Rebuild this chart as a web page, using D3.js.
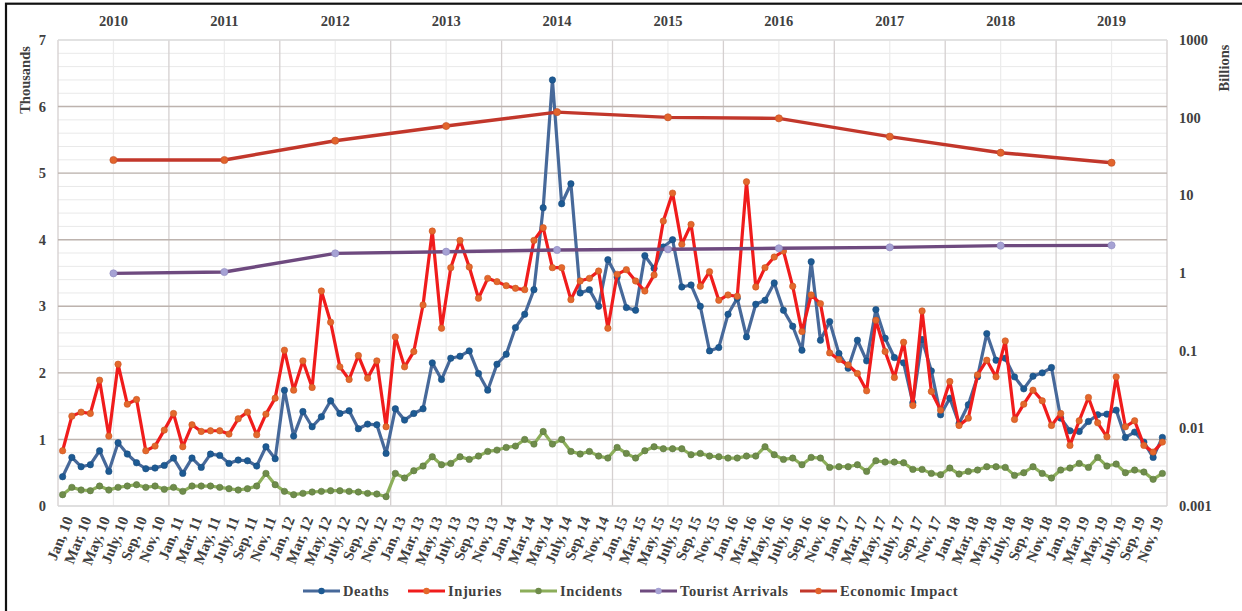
<!DOCTYPE html>
<html><head><meta charset="utf-8">
<script src="https://cdn.jsdelivr.net/npm/d3@7"></script>
<style>
html,body{margin:0;padding:0;background:#fff;}
svg{display:block;}
text{font-family:"Liberation Serif","Times New Roman",serif;font-weight:bold;fill:#404040;}
</style></head>
<body>
<svg id="chart" width="1242" height="611"></svg>
<script>
// ---------- DATA ----------
const monthNames = ["Jan","Feb","Mar","Apr","May","June","July","Aug","Sep","Oct","Nov","Dec"];
const years = ["2010","2011","2012","2013","2014","2015","2016","2017","2018","2019"];
const leftTicks = [0,1,2,3,4,5,6,7];
const rightTicks = [0.001,0.01,0.1,1,10,100,1000];
const rightTickLabels = ["0.001","0.01","0.1","1","10","100","1000"];

const deaths = [0.44,0.73,0.59,0.62,0.83,0.52,0.95,0.78,0.65,0.56,0.57,0.61,
0.72,0.49,0.72,0.58,0.78,0.76,0.64,0.69,0.68,0.60,0.89,0.71,
1.74,1.05,1.42,1.19,1.34,1.58,1.39,1.43,1.16,1.23,1.22,0.79,
1.46,1.29,1.39,1.46,2.15,1.90,2.22,2.25,2.33,1.99,1.74,2.13,
2.28,2.68,2.88,3.25,4.48,6.40,4.54,4.84,3.20,3.25,3.00,3.70,
3.44,2.98,2.94,3.76,3.57,3.89,4.00,3.29,3.32,3.00,2.33,2.38,
2.88,3.12,2.54,3.03,3.09,3.35,2.94,2.70,2.34,3.67,2.49,2.77,
2.29,2.07,2.49,2.18,2.95,2.52,2.23,2.15,1.55,2.50,2.03,1.37,
1.62,1.24,1.52,1.94,2.59,2.19,2.22,1.94,1.76,1.95,2.00,2.08,
1.32,1.13,1.12,1.27,1.37,1.38,1.44,1.03,1.11,0.96,0.73,1.03];

const injuries = [0.83,1.35,1.41,1.39,1.89,1.05,2.13,1.53,1.60,0.83,0.90,1.14,
1.39,0.89,1.22,1.12,1.13,1.13,1.08,1.31,1.41,1.07,1.38,1.62,
2.34,1.74,2.18,1.78,3.23,2.76,2.09,1.90,2.26,1.92,2.18,1.19,
2.54,2.09,2.32,3.02,4.13,2.67,3.58,3.99,3.59,3.12,3.42,3.37,
3.31,3.27,3.25,3.99,4.18,3.58,3.58,3.10,3.38,3.42,3.53,2.67,
3.48,3.55,3.38,3.23,3.47,4.28,4.70,3.93,4.23,3.30,3.52,3.09,
3.17,3.15,4.87,3.29,3.58,3.74,3.83,3.30,2.62,3.17,3.04,2.30,
2.20,2.12,1.99,1.73,2.79,2.32,1.93,2.46,1.51,2.93,1.72,1.44,
1.87,1.21,1.32,1.97,2.19,1.94,2.48,1.30,1.53,1.74,1.58,1.21,
1.39,0.91,1.28,1.63,1.25,1.04,1.94,1.19,1.28,0.91,0.81,0.96];

const incidents = [0.17,0.28,0.24,0.23,0.30,0.24,0.28,0.30,0.32,0.28,0.30,0.25,
0.28,0.22,0.30,0.30,0.30,0.28,0.26,0.24,0.26,0.30,0.49,0.32,
0.22,0.17,0.19,0.21,0.22,0.23,0.23,0.22,0.21,0.19,0.18,0.14,
0.49,0.42,0.53,0.60,0.74,0.62,0.64,0.74,0.70,0.75,0.82,0.84,
0.88,0.90,1.00,0.93,1.12,0.93,1.00,0.82,0.78,0.82,0.75,0.72,
0.88,0.79,0.72,0.83,0.89,0.86,0.86,0.86,0.77,0.79,0.75,0.74,
0.72,0.72,0.75,0.75,0.89,0.77,0.70,0.72,0.62,0.73,0.72,0.58,
0.59,0.59,0.62,0.52,0.68,0.66,0.66,0.65,0.55,0.55,0.49,0.47,
0.57,0.48,0.52,0.54,0.59,0.59,0.58,0.46,0.50,0.59,0.49,0.42,
0.54,0.57,0.64,0.58,0.73,0.60,0.63,0.50,0.54,0.51,0.40,0.49];

const touristArrivals = [0.99,1.03,1.79,1.88,1.98,2.02,2.08,2.14,2.25,2.27];
const economicImpact = [28.5,28.5,50.5,78,118,101,98,57,35.4,26.3];

// categories built from month names and years
const months = [];
years.forEach(y => monthNames.forEach(m => months.push(m + ", " + y.slice(2))));

// ---------- LAYOUT ----------
const svg = d3.select("#chart");
const L = 58, R = 1167, T = 40, B = 506;

const x = d3.scaleBand().domain(months).range([L, R]).padding(0);
const xy = d3.scaleBand().domain(years).range([L, R]).padding(0);
const yL = d3.scaleLinear().domain([0, 7]).range([B, T]);
const yR = d3.scaleLog().domain([0.001, 1000]).range([B, T]);
const cx = m => x(m) + x.bandwidth() / 2;
const cy = yr => xy(yr) + xy.bandwidth() / 2;

// frame
svg.append("rect").attr("x", 6).attr("y", 3.7).attr("width", 1260).attr("height", 640)
  .attr("fill", "none").attr("stroke", "#111").attr("stroke-width", 2.2);

// minor horizontal grid
const g = svg.append("g");
d3.range(0, 7.001, 0.2).forEach(v => {
  g.append("line").attr("x1", L).attr("x2", R).attr("y1", yL(v)).attr("y2", yL(v))
    .attr("stroke", "#e9e9e9").attr("stroke-width", 1);
});
// vertical grid: year centers (light) and year boundaries (darker)
years.forEach(yr => {
  g.append("line").attr("x1", cy(yr)).attr("x2", cy(yr)).attr("y1", T).attr("y2", B)
    .attr("stroke", "#ececec").attr("stroke-width", 1.2);
  g.append("line").attr("x1", xy(yr)).attr("x2", xy(yr)).attr("y1", T).attr("y2", B)
    .attr("stroke", "#d5d0d0").attr("stroke-width", 1.3);
});
g.append("line").attr("x1", R).attr("x2", R).attr("y1", T).attr("y2", B)
  .attr("stroke", "#d5d0d0").attr("stroke-width", 1.3);
// major horizontal grid
leftTicks.forEach(v => {
  g.append("line").attr("x1", L).attr("x2", R).attr("y1", yL(v)).attr("y2", yL(v))
    .attr("stroke", v === 0 ? "#d8d8d8" : (v === 7 ? "#dcdcdc" : "#bdb3ae")).attr("stroke-width", v===0||v===7 ? 1.5 : 1.4);
});

// axes
const axL = svg.append("g").attr("transform", `translate(${L - 9},0)`)
  .call(d3.axisLeft(yL).tickValues(leftTicks).tickSize(0).tickFormat(d3.format("d")));
axL.select(".domain").remove();
axL.selectAll("text").style("font-size", "14.5px").attr("fill", "#404040");

const axR = svg.append("g").attr("transform", `translate(${R + 9},0)`)
  .call(d3.axisRight(yR).tickValues(rightTicks).tickSize(0).tickFormat((d, i) => rightTickLabels[i]));
axR.select(".domain").remove();
axR.selectAll("text").style("font-size", "14.5px").attr("fill", "#404040");

const axT = svg.append("g").attr("transform", `translate(0,${T - 11})`)
  .call(d3.axisTop(xy).tickSize(0));
axT.select(".domain").remove();
axT.selectAll("text").style("font-size", "14.5px").attr("fill", "#404040");

const axB = svg.append("g").attr("transform", `translate(0,${B + 10})`)
  .call(d3.axisBottom(x).tickValues(months.filter((m, i) => i % 2 === 0)).tickSize(0));
axB.select(".domain").remove();
axB.selectAll("text").style("font-size", "15px").attr("fill", "#404040")
  .attr("text-anchor", "end").attr("dy", "0.35em").attr("dx", "0")
  .attr("transform", "translate(3,0) rotate(-68)");

// axis titles
svg.append("text").attr("transform", "translate(30,80) rotate(-90)").attr("text-anchor", "middle")
  .style("font-size", "14.5px").text("Thousands");
svg.append("text").attr("transform", "translate(1229,68) rotate(-90)").attr("text-anchor", "middle")
  .style("font-size", "14.5px").text("Billions");

// ---------- SERIES ----------
const series = [
  {name: "Incidents", vals: incidents, line: "#8cae5a", mark: "#6f8c4b", stroke: "#5d7a3e"},
  {name: "Deaths", vals: deaths, line: "#47699a", mark: "#1d5a93", stroke: "#1a4d80"},
  {name: "Injuries", vals: injuries, line: "#f01c1c", mark: "#e4682c", stroke: "#c9541e"}
];
const lineM = d3.line().x((d, i) => cx(months[i])).y(d => yL(d));
series.forEach(s => {
  svg.append("path").datum(s.vals).attr("d", lineM).attr("fill", "none")
    .attr("stroke", s.line).attr("stroke-width", 3.2).attr("stroke-linejoin", "round");
  svg.append("g").selectAll("circle").data(s.vals).join("circle")
    .attr("cx", (d, i) => cx(months[i])).attr("cy", d => yL(d)).attr("r", 3.2)
    .attr("fill", s.mark).attr("stroke", s.stroke).attr("stroke-width", 0.6);
});

const yearSeries = [
  {name: "Tourist Arrivals", vals: touristArrivals, line: "#6e4a7f", mark: "#a6a2d4", stroke: "#8e89bf"},
  {name: "Economic Impact", vals: economicImpact, line: "#c2372b", mark: "#e2642c", stroke: "#c0502a"}
];
const lineY = d3.line().x((d, i) => cy(years[i])).y(d => yR(d));
yearSeries.forEach(s => {
  svg.append("path").datum(s.vals).attr("d", lineY).attr("fill", "none")
    .attr("stroke", s.line).attr("stroke-width", 3.4).attr("stroke-linejoin", "round");
  svg.append("g").selectAll("circle").data(s.vals).join("circle")
    .attr("cx", (d, i) => cy(years[i])).attr("cy", d => yR(d)).attr("r", 3.6)
    .attr("fill", s.mark).attr("stroke", s.stroke).attr("stroke-width", 0.6);
});

// ---------- LEGEND ----------
const legendItems = [
  {name: "Deaths", x: 303, line: "#47699a", mark: "#1d5a93"},
  {name: "Injuries", x: 408, line: "#f01c1c", mark: "#e4682c"},
  {name: "Incidents", x: 520, line: "#8cae5a", mark: "#6f8c4b"},
  {name: "Tourist Arrivals", x: 640, line: "#6e4a7f", mark: "#a6a2d4"},
  {name: "Economic Impact", x: 800, line: "#c2372b", mark: "#e2642c"}
];
const lg = svg.append("g");
legendItems.forEach(it => {
  lg.append("line").attr("x1", it.x).attr("x2", it.x + 37).attr("y1", 591).attr("y2", 591)
    .attr("stroke", it.line).attr("stroke-width", 3.2);
  lg.append("circle").attr("cx", it.x + 18.5).attr("cy", 591).attr("r", 3.2).attr("fill", it.mark);
  lg.append("text").attr("x", it.x + 40).attr("y", 596).style("font-size", "14.5px")
    .style("letter-spacing", "0.6px").text(it.name);
});
</script>
</body></html>
